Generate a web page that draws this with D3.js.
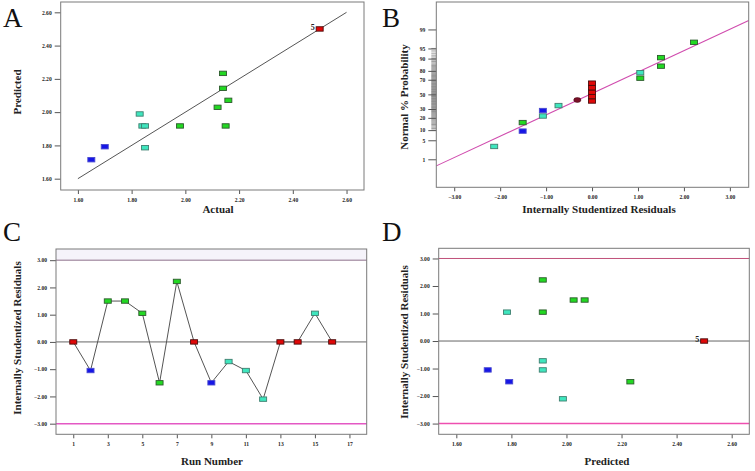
<!DOCTYPE html>
<html><head><meta charset="utf-8">
<script src="https://cdn.jsdelivr.net/npm/d3@7"></script>
<style>
html,body{margin:0;padding:0;background:#fff;}
svg{display:block;}
text{font-family:"Liberation Serif","Times New Roman",serif;}
</style></head>
<body>
<svg id="c" width="755" height="471"></svg>
<script>
// ---------- DATA ----------
// Panel A: Predicted vs Actual
const actualA    = [1.65, 1.70, 1.83, 1.84, 1.85, 1.85, 1.98, 2.14, 2.14, 2.12, 2.16, 2.15, 2.50];
const predictedA = [1.714,1.792,1.989,1.917,1.917,1.786,1.917,2.233,2.143,2.029,2.071,1.917,2.50];
const groupA     = ["blue","blue","cyan","cyan","cyan","cyan","green","green","green","green","green","green","red"];
const labelA     = ["","","","","","","","","","","","","5"];
const ticksA     = [1.60, 1.80, 2.00, 2.20, 2.40, 2.60];

// Panel B: Normal % probability plot
const residB = [-2.13,-1.51,-1.51,-1.07,-1.07,-0.73, 0, 0, 0, 0, 0, 1.05, 1.05, 1.50, 1.50, 2.22];
const pctB   = [3.1, 9.4, 15.6, 21.9, 28.1, 34.4, 40.6, 46.9, 53.1, 59.4, 65.6, 71.9, 78.1, 84.4, 90.6, 96.9];
const groupB = ["cyan","blue","green","cyan","blue","cyan","red","red","red","red","red","green","cyan","green","green","green"];
const extraResidB = [-0.32];
const extraPctB   = [42.0];
const lineB_x = [-3.39, 3.41];
const lineB_p = [0.52, 99.59];
const ticksBx = [-3.00, -2.00, -1.00, 0.00, 1.00, 2.00, 3.00];
const ticksBy = [1, 5, 10, 20, 30, 50, 70, 80, 90, 95, 99];
const minorBy = d3.range(10, 96);

// Panel C: residuals vs run
const runC   = [1,2,3,4,5,6,7,8,9,10,11,12,13,14,15,16];
const residC = [0,-1.05,1.50,1.50,1.05,-1.50,2.22,0,-1.50,-0.72,-1.05,-2.10,0,0,1.05,0];
const groupC = ["red","blue","green","green","green","green","green","red","blue","cyan","cyan","cyan","red","red","cyan","red"];
const ticksCx = [1,3,5,7,9,11,13,15,17];
const ticksCy = [-3.00,-2.00,-1.00,0.00,1.00,2.00,3.00];

// Panel D: residuals vs predicted
const predD  = [1.784,1.914,1.914,2.026,2.066,2.50,1.714,1.792,1.914,1.914,1.987,2.232];
const residD = [1.05, 2.22, 1.05, 1.49, 1.49, 0, -1.05,-1.48,-0.72,-1.05,-2.10,-1.48];
const groupD = ["cyan","green","green","green","green","red","blue","blue","cyan","cyan","cyan","green"];
const labelD = ["","","","","","5","","","","","",""];
const ticksDx = [1.60,1.80,2.00,2.20,2.40,2.60];
const ticksDy = [-3.00,-2.00,-1.00,0.00,1.00,2.00,3.00];

// ---------- STYLE ----------
const fillC = {blue:"#1616e6", cyan:"#3fe6be", green:"#22d822", red:"#e00808"};
const strokeC = {blue:"#4a4ad0", cyan:"#3f7f70", green:"#2d5a2d", red:"#4a0a0a"};
const frame = "#7a7a7a";

const svg = d3.select("#c");

// inverse normal CDF (Acklam)
function probit(p){
  const a=[-3.969683028665376e+01,2.209460984245205e+02,-2.759285104469687e+02,1.383577518672690e+02,-3.066479806614716e+01,2.506628277459239e+00];
  const b=[-5.447609879822406e+01,1.615858368580409e+02,-1.556989798598866e+02,6.680131188771972e+01,-1.328068155288572e+01];
  const c=[-7.784894002430293e-03,-3.223964580411365e-01,-2.400758277161838e+00,-2.549671180376193e+00,4.374664141464968e+00,2.938163982698783e+00];
  const d=[7.784695709041462e-03,3.224671290700398e-01,2.445134137142996e+00,3.754408661907416e+00];
  const pl=0.02425;
  let q,r;
  if(p<pl){q=Math.sqrt(-2*Math.log(p));return (((((c[0]*q+c[1])*q+c[2])*q+c[3])*q+c[4])*q+c[5])/((((d[0]*q+d[1])*q+d[2])*q+d[3])*q+1);}
  if(p>1-pl){q=Math.sqrt(-2*Math.log(1-p));return -(((((c[0]*q+c[1])*q+c[2])*q+c[3])*q+c[4])*q+c[5])/((((d[0]*q+d[1])*q+d[2])*q+d[3])*q+1);}
  q=p-0.5;r=q*q;
  return (((((a[0]*r+a[1])*r+a[2])*r+a[3])*r+a[4])*r+a[5])*q/(((((b[0]*r+b[1])*r+b[2])*r+b[3])*r+b[4])*r+1);
}

function frameBox(g, x0, y0, x1, y1){
  g.append("rect").attr("x",x0).attr("y",y0).attr("width",x1-x0).attr("height",y1-y0)
    .attr("fill","none").attr("stroke",frame).attr("stroke-width",1);
}
function axes(g, x, y, xt, yt, xfmt, yfmt, box, yvals){
  const [x0,y0,x1,y1]=box;
  const ax = g.append("g").attr("transform",`translate(0,${y1})`)
    .call(d3.axisBottom(x).tickValues(xt).tickFormat(xfmt).tickSize(4).tickPadding(4));
  const ay = g.append("g").attr("transform",`translate(${x0},0)`)
    .call(d3.axisLeft(y).tickValues(yvals||yt).tickFormat(yfmt).tickSize(6).tickPadding(3));
  [ax,ay].forEach(a=>{
    a.select(".domain").remove();
    a.selectAll("line").attr("stroke","#555");
    a.selectAll("text").attr("font-size",5.6).attr("font-weight","bold").attr("fill","#222");
  });
  return [ax,ay];
}
function markers(g, xs, ys, groups, x, y){
  g.selectAll(null).data(xs.map((v,i)=>({x:v,y:ys[i],g:groups[i]}))).enter()
    .append("rect")
    .attr("x",d=>x(d.x)-3.5).attr("y",d=>y(d.y)-2.2)
    .attr("width",7).attr("height",4.4)
    .attr("fill",d=>fillC[d.g]).attr("stroke",d=>strokeC[d.g]).attr("stroke-width",0.9);
}
function letter(t,x,y){
  svg.append("text").attr("x",x).attr("y",y).attr("font-size",27).attr("fill","#111").text(t);
}
function title(t,x,y,rot){
  const tx = svg.append("text").attr("font-size",11).attr("font-weight","bold").attr("fill","#222")
    .attr("text-anchor","middle").text(t);
  if(rot) tx.attr("transform",`translate(${x},${y}) rotate(-90)`);
  else tx.attr("x",x).attr("y",y);
}
const f2 = d3.format(".2f");

// ---------- PANEL A ----------
{
  const box=[60.7,2,364,190];
  const x=d3.scaleLinear().domain([1.536,2.665]).range([box[0],box[2]]);
  const y=d3.scaleLinear().domain([1.532,2.662]).range([box[3],box[1]]);
  const g=svg.append("g");
  g.append("line").attr("x1",x(1.6)).attr("y1",y(1.6)).attr("x2",x(2.6)).attr("y2",y(2.6))
    .attr("stroke","#555").attr("stroke-width",1);
  markers(g, actualA, predictedA, groupA, x, y);
  g.selectAll(null).data(labelA.map((l,i)=>({l,x:actualA[i],y:predictedA[i]})).filter(d=>d.l)).enter()
    .append("text").attr("x",d=>x(d.x)-5).attr("y",d=>y(d.y)+1).attr("text-anchor","end")
    .attr("font-size",8).attr("font-weight","bold").attr("fill","#222").text(d=>d.l);
  axes(g,x,y,ticksA,ticksA,f2,f2,box);
  frameBox(g,...box);
  letter("A",3,27);
  title("Actual",218,213,false);
  title("Predicted",21,92,true);
}

// ---------- PANEL B ----------
{
  const box=[436.3,2,748.7,187.3];
  const x=d3.scaleLinear().domain([-3.39,3.41]).range([box[0],box[2]]);
  const yz=d3.scaleLinear().domain([-3.33,3.31]).range([box[3],box[1]]);
  const y=p=>yz(probit(p/100));
  const g=svg.append("g");
  // minor ticks
  g.selectAll(null).data(minorBy).enter().append("line")
    .attr("x1",box[0]-5).attr("x2",box[0]).attr("y1",d=>y(d)).attr("y2",d=>y(d))
    .attr("stroke","#6e6e6e").attr("stroke-width",0.7);
  g.append("line").attr("x1",x(lineB_x[0])).attr("y1",y(lineB_p[0])).attr("x2",x(lineB_x[1])).attr("y2",y(lineB_p[1]))
    .attr("stroke","#d04cae").attr("stroke-width",1.1);
  g.selectAll(null).data(extraResidB.map((v,i)=>({x:v,y:extraPctB[i]}))).enter()
    .append("ellipse").attr("cx",d=>x(d.x)).attr("cy",d=>y(d.y)).attr("rx",3.6).attr("ry",2.4)
    .attr("fill","#7a1028").attr("stroke","#4a0a18").attr("stroke-width",0.6);
  markers(g, residB, pctB, groupB, x, y);
  // axes
  const ax=g.append("g").attr("transform",`translate(0,${box[3]})`)
    .call(d3.axisBottom(x).tickValues(ticksBx).tickFormat(f2).tickSize(4).tickPadding(4));
  const yAxisScale = d3.scaleLinear().domain([-3.33,3.31]).range([box[3],box[1]]);
  const ay=g.append("g").attr("transform",`translate(${box[0]},0)`)
    .call(d3.axisLeft(yAxisScale).tickValues(ticksBy.map(p=>probit(p/100))).tickFormat((d,i)=>ticksBy[i]).tickSize(8).tickPadding(3));
  [ax,ay].forEach(a=>{
    a.select(".domain").remove();
    a.selectAll("line").attr("stroke","#555");
    a.selectAll("text").attr("font-size",5.6).attr("font-weight","bold").attr("fill","#222");
  });
  frameBox(g,...box);
  letter("B",382,27);
  title("Internally Studentized Residuals",599,213,false);
  title("Normal % Probability",408,97,true);
}

// ---------- PANEL C ----------
{
  const box=[56,249,366.7,434.3];
  const x=d3.scaleLinear().domain([0,18]).range([box[0],box[2]]);
  const y=d3.scaleLinear().domain([-3.39,3.41]).range([box[3],box[1]]);
  const g=svg.append("g");
  g.append("rect").attr("x",box[0]).attr("y",box[1]).attr("width",box[2]-box[0]).attr("height",y(3)-box[1])
    .attr("fill","#f5f3fa");
  g.append("line").attr("x1",box[0]).attr("x2",box[2]).attr("y1",y(3)).attr("y2",y(3)).attr("stroke","#8e6f8c").attr("stroke-width",1);
  g.append("line").attr("x1",box[0]).attr("x2",box[2]).attr("y1",y(-3)).attr("y2",y(-3)).attr("stroke","#e458c4").attr("stroke-width",1.5);
  g.append("line").attr("x1",box[0]).attr("x2",box[2]).attr("y1",y(0)).attr("y2",y(0)).attr("stroke","#666").attr("stroke-width",1);
  g.append("path").datum(runC.map((r,i)=>[r,residC[i]]))
    .attr("d",d3.line().x(d=>x(d[0])).y(d=>y(d[1])))
    .attr("fill","none").attr("stroke","#555").attr("stroke-width",1);
  markers(g, runC, residC, groupC, x, y);
  axes(g,x,y,ticksCx,ticksCy,d3.format("d"),f2,box);
  frameBox(g,...box);
  letter("C",3,241);
  title("Run Number",212,465,false);
  title("Internally Studentized Residuals",21,338,true);
}

// ---------- PANEL D ----------
{
  const box=[438.7,248.3,749.3,434.3];
  const x=d3.scaleLinear().domain([1.536,2.664]).range([box[0],box[2]]);
  const y=d3.scaleLinear().domain([-3.39,3.37]).range([box[3],box[1]]);
  const g=svg.append("g");
  g.append("line").attr("x1",box[0]).attr("x2",box[2]).attr("y1",y(3)).attr("y2",y(3)).attr("stroke","#c0507a").attr("stroke-width",1);
  g.append("line").attr("x1",box[0]).attr("x2",box[2]).attr("y1",y(-3)).attr("y2",y(-3)).attr("stroke","#ee4fb0").attr("stroke-width",1.5);
  g.append("line").attr("x1",box[0]).attr("x2",box[2]).attr("y1",y(0)).attr("y2",y(0)).attr("stroke","#666").attr("stroke-width",1);
  markers(g, predD, residD, groupD, x, y);
  g.selectAll(null).data(labelD.map((l,i)=>({l,x:predD[i],y:residD[i]})).filter(d=>d.l)).enter()
    .append("text").attr("x",d=>x(d.x)-5).attr("y",d=>y(d.y)+1).attr("text-anchor","end")
    .attr("font-size",8).attr("font-weight","bold").attr("fill","#222").text(d=>d.l);
  axes(g,x,y,ticksDx,ticksDy,f2,f2,box);
  frameBox(g,...box);
  letter("D",382,241);
  title("Predicted",607,465,false);
  title("Internally Studentized Residuals",408,342,true);
}
</script>
</body></html>
